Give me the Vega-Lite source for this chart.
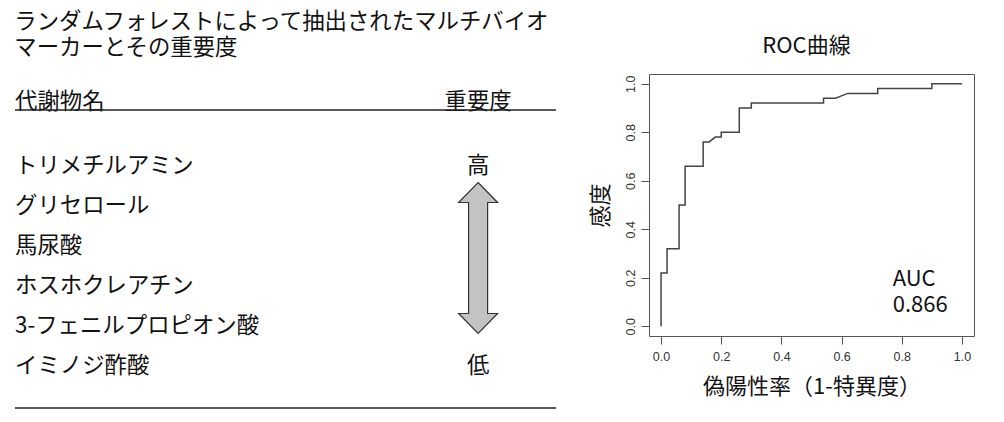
{
  "$schema": "https://vega.github.io/schema/vega-lite/v6.json",
  "background": "white",
  "padding": {"left": 14, "top": 10, "right": 5, "bottom": 5},
  "config": {
    "font": "Noto Sans CJK JP",
    "view": {"stroke": null},
    "title": {"fontWeight": "normal", "color": "#111", "font": "Noto Sans CJK JP"}
  },
  "hconcat": [
    {
      "width": 541,
      "height": 340,
      "title": {
        "text": ["ランダムフォレストによって抽出されたマルチバイオ", "マーカーとその重要度"],
        "anchor": "start",
        "fontSize": 22.4,
        "lineHeight": 26,
        "offset": 15
      },
      "layer": [
        {
          "data": {
            "values": [
              {"rank": 1, "name": "トリメチルアミン"},
              {"rank": 2, "name": "グリセロール"},
              {"rank": 3, "name": "馬尿酸"},
              {"rank": 4, "name": "ホスホクレアチン"},
              {"rank": 5, "name": "3-フェニルプロピオン酸"},
              {"rank": 6, "name": "イミノジ酢酸"}
            ]
          },
          "mark": {"type": "text", "align": "left", "baseline": "middle", "fontSize": 22.4, "color": "#111"},
          "encoding": {
            "x": {"datum": 0, "type": "quantitative", "scale": {"domain": [0, 1], "nice": false, "zero": false}, "axis": null},
            "y": {"field": "rank", "type": "quantitative", "scale": {"domain": [-1.3, 7.2], "nice": false, "zero": false, "reverse": true}, "axis": null},
            "text": {"field": "name"}
          }
        },
        {
          "data": {"values": [{"label": "代謝物名"}]},
          "mark": {"type": "text", "align": "left", "baseline": "middle", "fontSize": 22.4, "color": "#111"},
          "encoding": {
            "x": {"datum": 0, "type": "quantitative", "scale": {"domain": [0, 1], "nice": false, "zero": false}, "axis": null},
            "y": {"datum": -0.6, "type": "quantitative", "scale": {"domain": [-1.3, 7.2], "nice": false, "zero": false, "reverse": true}, "axis": null},
            "text": {"field": "label"}
          }
        },
        {
          "data": {"values": [{"label": "重要度", "pos": -0.6}, {"label": "高", "pos": 1}, {"label": "低", "pos": 6}]},
          "mark": {"type": "text", "align": "center", "baseline": "middle", "fontSize": 22.4, "color": "#111"},
          "encoding": {
            "x": {"datum": 0.856, "type": "quantitative", "scale": {"domain": [0, 1], "nice": false, "zero": false}, "axis": null},
            "y": {"field": "pos", "type": "quantitative", "scale": {"domain": [-1.3, 7.2], "nice": false, "zero": false, "reverse": true}, "axis": null},
            "text": {"field": "label"}
          }
        },
        {
          "data": {"values": [{}]},
          "mark": {
            "type": "point",
            "shape": "M0,-1 L0.258,-0.735 L0.126,-0.735 L0.126,0.735 L0.258,0.735 L0,1 L-0.258,0.735 L-0.126,0.735 L-0.126,-0.735 L-0.258,-0.735 Z",
            "size": 22801,
            "fill": "#c3c3c3",
            "stroke": "#333",
            "strokeWidth": 1.2,
            "opacity": 1,
            "fillOpacity": 1
          },
          "encoding": {
            "x": {"datum": 0.856, "type": "quantitative", "scale": {"domain": [0, 1], "nice": false, "zero": false}, "axis": null},
            "y": {"datum": 3.3, "type": "quantitative", "scale": {"domain": [-1.3, 7.2], "nice": false, "zero": false, "reverse": true}, "axis": null}
          }
        },
        {
          "data": {"values": [{"pos": -0.4}, {"pos": 7.05}]},
          "mark": {"type": "rule", "color": "#222", "strokeWidth": 1.5},
          "encoding": {
            "x": {"datum": 0, "type": "quantitative", "scale": {"domain": [0, 1], "nice": false, "zero": false}, "axis": null},
            "x2": {"datum": 1},
            "y": {"field": "pos", "type": "quantitative", "scale": {"domain": [-1.3, 7.2], "nice": false, "zero": false, "reverse": true}, "axis": null}
          }
        }
      ]
    },
    {
      "width": 325,
      "height": 262,
      "view": {"stroke": "#555", "strokeWidth": 1},
      "title": {"text": "ROC曲線", "fontSize": 22, "offset": 16, "anchor": "middle", "dx": -5},
      "layer": [
        {
          "data": {
            "values": [
              {"i": 0, "fpr": 0.0, "tpr": 0.0},
              {"i": 1, "fpr": 0.0, "tpr": 0.22},
              {"i": 2, "fpr": 0.02, "tpr": 0.22},
              {"i": 3, "fpr": 0.02, "tpr": 0.32},
              {"i": 4, "fpr": 0.06, "tpr": 0.32},
              {"i": 5, "fpr": 0.06, "tpr": 0.5},
              {"i": 6, "fpr": 0.08, "tpr": 0.5},
              {"i": 7, "fpr": 0.08, "tpr": 0.66},
              {"i": 8, "fpr": 0.14, "tpr": 0.66},
              {"i": 9, "fpr": 0.14, "tpr": 0.76},
              {"i": 10, "fpr": 0.16, "tpr": 0.76},
              {"i": 11, "fpr": 0.18, "tpr": 0.78},
              {"i": 12, "fpr": 0.2, "tpr": 0.78},
              {"i": 13, "fpr": 0.2, "tpr": 0.8},
              {"i": 14, "fpr": 0.26, "tpr": 0.8},
              {"i": 15, "fpr": 0.26, "tpr": 0.9},
              {"i": 16, "fpr": 0.3, "tpr": 0.9},
              {"i": 17, "fpr": 0.3, "tpr": 0.92},
              {"i": 18, "fpr": 0.54, "tpr": 0.92},
              {"i": 19, "fpr": 0.54, "tpr": 0.94},
              {"i": 20, "fpr": 0.58, "tpr": 0.94},
              {"i": 21, "fpr": 0.62, "tpr": 0.96},
              {"i": 22, "fpr": 0.72, "tpr": 0.96},
              {"i": 23, "fpr": 0.72, "tpr": 0.98},
              {"i": 24, "fpr": 0.9, "tpr": 0.98},
              {"i": 25, "fpr": 0.9, "tpr": 1.0},
              {"i": 26, "fpr": 1.0, "tpr": 1.0}
            ]
          },
          "mark": {"type": "line", "color": "#444", "strokeWidth": 1.5},
          "encoding": {
            "x": {
              "field": "fpr", "type": "quantitative",
              "scale": {"domain": [-0.04, 1.04], "nice": false, "zero": false},
              "axis": {
                "title": "偽陽性率（1-特異度）",
                "values": [0, 0.2, 0.4, 0.6, 0.8, 1.0],
                "format": ".1f",
                "grid": false,
                "domain": false,
                "tickSize": 8,
                "tickColor": "#555",
                "labelFont": "Liberation Sans",
                "labelFontSize": 12.5,
                "labelColor": "#333",
                "labelPadding": 6,
                "titleFont": "Noto Sans CJK JP",
                "titleFontSize": 22,
                "titleFontWeight": "normal",
                "titleColor": "#111",
                "titlePadding": 14
              }
            },
            "y": {
              "field": "tpr", "type": "quantitative",
              "scale": {"domain": [-0.04, 1.04], "nice": false, "zero": false},
              "axis": {
                "title": "感度",
                "values": [0, 0.2, 0.4, 0.6, 0.8, 1.0],
                "format": ".1f",
                "grid": false,
                "domain": false,
                "tickSize": 8,
                "tickColor": "#555",
                "labelFont": "Liberation Sans",
                "labelFontSize": 12.5,
                "labelColor": "#333",
                "labelPadding": 4,
                "labelAngle": -90,
                "labelAlign": "center",
                "labelBaseline": "bottom",
                "titleFont": "Noto Sans CJK JP",
                "titleFontSize": 22,
                "titleFontWeight": "normal",
                "titleColor": "#111",
                "titlePadding": 12
              }
            },
            "order": {"field": "i"}
          }
        },
        {
          "data": {"values": [{"label": ["AUC", "0.866"]}]},
          "mark": {"type": "text", "align": "left", "baseline": "middle", "fontSize": 22, "lineHeight": 26, "color": "#111"},
          "encoding": {
            "x": {"datum": 0.77, "type": "quantitative"},
            "y": {"datum": 0.193, "type": "quantitative"},
            "text": {"field": "label"}
          }
        }
      ]
    }
  ],
  "spacing": 93,
  "bounds": "flush"
}
